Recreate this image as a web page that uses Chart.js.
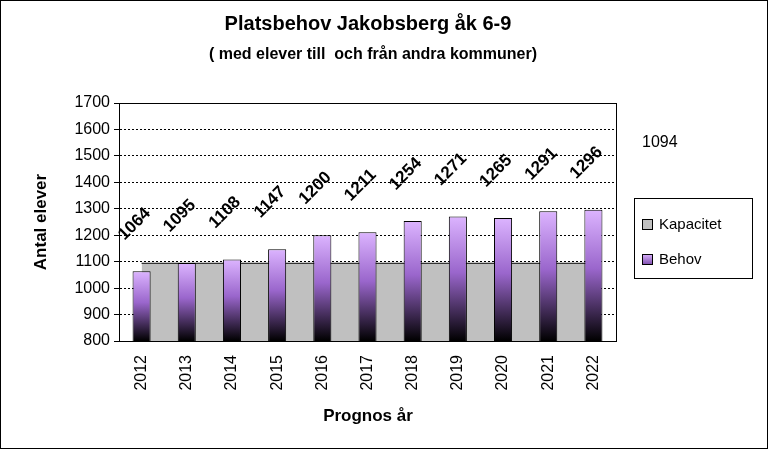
<!DOCTYPE html>
<html><head><meta charset="utf-8">
<script src="https://cdn.jsdelivr.net/npm/chart.js@4/dist/chart.umd.min.js"></script>
<style>html,body{margin:0;padding:0;background:#fff}#w{width:768px;height:449px}</style>
</head><body><div id="w"><canvas id="c"></canvas></div>
<script>
const years = ['2012','2013','2014','2015','2016','2017','2018','2019','2020','2021','2022'];
const behov = [1064,1095,1108,1147,1200,1211,1254,1271,1265,1291,1296];
const kapacitet = [1094,1094,1094,1094,1094,1094,1094,1094,1094,1094,1094];
const yTicks = [800,900,1000,1100,1200,1300,1400,1500,1600,1700];
const F = 'Liberation Sans, Arial, sans-serif';

function barGrad(ctx){
  const ch = ctx.chart; const a = ch.chartArea; if(!a) return '#9966cc';
  const v = ctx.raw; const top = ch.scales.y.getPixelForValue(v);
  const g = ch.ctx.createLinearGradient(0, top, 0, a.bottom);
  g.addColorStop(0,'#dcb4ff'); g.addColorStop(0.45,'#9a66cc'); g.addColorStop(1,'#000000');
  return g;
}
const deco = {
  id:'deco',
  beforeDraw(ch){
    const c = ch.ctx;
    c.save(); c.fillStyle='#fff'; c.fillRect(0,0,ch.width,ch.height); c.restore();
  },
  afterDraw(ch){
    const c = ch.ctx, a = ch.chartArea;
    c.save();
    c.strokeStyle='#000'; c.lineWidth=1;
    c.strokeRect(a.left+0.5,a.top+0.5,a.right-a.left,a.bottom-a.top);
    c.strokeRect(0.5,0.5,ch.width-1,ch.height-1);
    c.fillStyle='#000'; c.textAlign='center'; c.textBaseline='middle';
    c.font='bold 20px '+F; c.fillText('Platsbehov Jakobsberg åk 6-9',368,24);
    c.font='bold 16px '+F; c.fillText('( med elever till  och från andra kommuner)',373,55);
    c.font='bold 17px '+F; c.fillText('Prognos år',368,416);
    c.save(); c.translate(41,222); c.rotate(-Math.PI/2); c.fillText('Antal elever',0,0); c.restore();
    c.font='16px '+F; c.textAlign='left'; c.fillText('1094',642,143);
    const meta = ch.getDatasetMeta(1);
    c.font='bold 17px '+F; c.textAlign='center';
    meta.data.forEach((b,i)=>{
      c.save(); c.translate(b.x-7,b.y-47); c.rotate(-Math.PI/4);
      c.fillText(String(behov[i]),0,0); c.restore();
    });
    c.strokeRect(634.5,198.5,118,80);
    c.fillStyle='#c0c0c0'; c.fillRect(642,219,11,11); c.strokeRect(642.5,219.5,10,10);
    const g=c.createLinearGradient(0,254,0,265); g.addColorStop(0,'#dcb4ff'); g.addColorStop(1,'#7a4aaa');
    c.fillStyle=g; c.fillRect(642,254,11,11); c.strokeRect(642.5,254.5,10,10);
    c.fillStyle='#000'; c.font='15px '+F; c.textAlign='left';
    c.fillText('Kapacitet',659,225); c.fillText('Behov',659,260);
    c.restore();
  }
};
new Chart(document.getElementById('c'),{
  data:{labels:years,datasets:[
    {type:'line',label:'Kapacitet',data:kapacitet,fill:'start',backgroundColor:'#c0c0c0',borderColor:'#000',borderWidth:1,pointRadius:0,order:2,tension:0},
    {type:'bar',label:'Behov',data:behov,backgroundColor:barGrad,borderColor:'#000',borderWidth:1,barPercentage:0.4,categoryPercentage:1,order:1}
  ]},
  options:{responsive:true,maintainAspectRatio:false,animation:false,
    layout:{padding:{top:103,right:152,left:0,bottom:0}},
    plugins:{legend:{display:false},tooltip:{enabled:false},title:{display:false}},
    scales:{
      x:{offset:true,grid:{display:false},border:{color:'#000'},
        ticks:{color:'#000',font:{family:F,size:16},minRotation:90,maxRotation:90,padding:6},
        afterFit(s){s.height=108;}},
      y:{min:800,max:1700,afterBuildTicks(s){s.ticks=yTicks.map(v=>({value:v}));},
        grid:{color:'#000',tickLength:5,drawTicks:true},border:{color:'#000',dash:[2,2]},
        ticks:{color:'#000',font:{family:F,size:16},padding:4,callback:v=>String(v)},
        afterFit(s){s.width=119;}}
    }
  },
  plugins:[deco]
});
</script></body></html>
